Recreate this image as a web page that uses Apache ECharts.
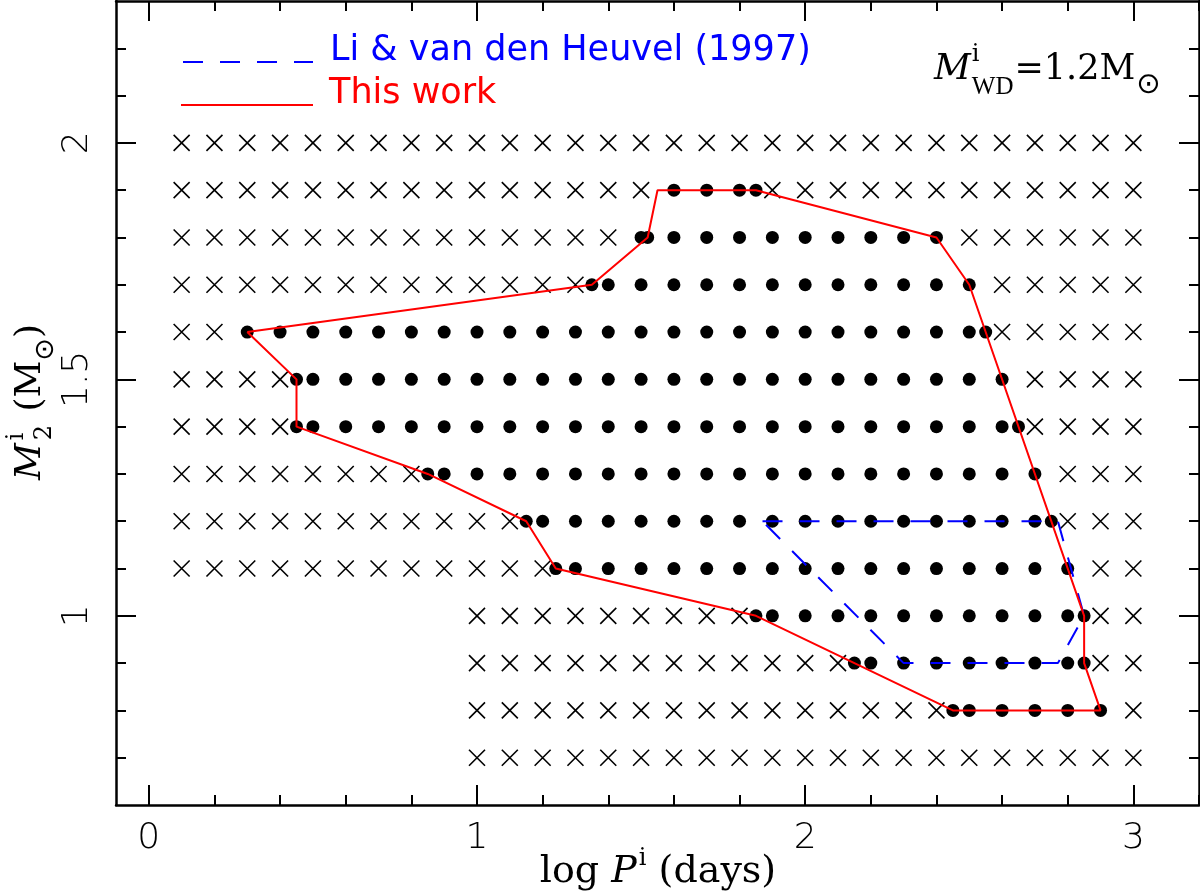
<!DOCTYPE html>
<html>
<head>
<meta charset="utf-8">
<script src="https://cdn.jsdelivr.net/npm/echarts@6/dist/echarts.min.js"></script>
<style>
  html, body { margin: 0; padding: 0; background: #fff; }
  #chart { width: 1200px; height: 895px; }
</style>
</head>
<body>
<div id="chart"></div>
<script>
// initial companion mass rows (Msun)
var m2Rows = [2.0, 1.9, 1.8, 1.7, 1.6, 1.5, 1.4, 1.3, 1.2, 1.1, 1.0, 0.9, 0.8, 0.7];

// log P of the crosses (no SN Ia) in each row
var crossRows = [
    [0.1, 0.2, 0.3, 0.4, 0.5, 0.6, 0.7, 0.8, 0.9, 1.0, 1.1, 1.2, 1.3, 1.4, 1.5, 1.6, 1.7, 1.8, 1.9, 2.0, 2.1, 2.2, 2.3, 2.4, 2.5, 2.6, 2.7, 2.8, 2.9, 3.0],
    [0.1, 0.2, 0.3, 0.4, 0.5, 0.6, 0.7, 0.8, 0.9, 1.0, 1.1, 1.2, 1.3, 1.4, 1.5, 1.9, 2.0, 2.1, 2.2, 2.3, 2.4, 2.5, 2.6, 2.7, 2.8, 2.9, 3.0],
    [0.1, 0.2, 0.3, 0.4, 0.5, 0.6, 0.7, 0.8, 0.9, 1.0, 1.1, 1.2, 1.3, 1.4, 2.5, 2.6, 2.7, 2.8, 2.9, 3.0],
    [0.1, 0.2, 0.3, 0.4, 0.5, 0.6, 0.7, 0.8, 0.9, 1.0, 1.1, 1.2, 1.3, 2.6, 2.7, 2.8, 2.9, 3.0],
    [0.1, 0.2, 2.6, 2.7, 2.8, 2.9, 3.0],
    [0.1, 0.2, 0.3, 0.4, 2.7, 2.8, 2.9, 3.0],
    [0.1, 0.2, 0.3, 0.4, 2.7, 2.8, 2.9, 3.0],
    [0.1, 0.2, 0.3, 0.4, 0.5, 0.6, 0.7, 0.8, 2.8, 2.9, 3.0],
    [0.1, 0.2, 0.3, 0.4, 0.5, 0.6, 0.7, 0.8, 0.9, 1.0, 1.1, 2.8, 2.9, 3.0],
    [0.1, 0.2, 0.3, 0.4, 0.5, 0.6, 0.7, 0.8, 0.9, 1.0, 1.1, 1.2, 2.9, 3.0],
    [1.0, 1.1, 1.2, 1.3, 1.4, 1.5, 1.6, 1.7, 1.8, 2.9, 3.0],
    [1.0, 1.1, 1.2, 1.3, 1.4, 1.5, 1.6, 1.7, 1.8, 1.9, 2.0, 2.1, 2.9, 3.0],
    [1.0, 1.1, 1.2, 1.3, 1.4, 1.5, 1.6, 1.7, 1.8, 1.9, 2.0, 2.1, 2.2, 2.3, 2.4, 3.0],
    [1.0, 1.1, 1.2, 1.3, 1.4, 1.5, 1.6, 1.7, 1.8, 1.9, 2.0, 2.1, 2.2, 2.3, 2.4, 2.5, 2.6, 2.7, 2.8, 2.9, 3.0]
];

// log P of the filled dots (SN Ia) in each row
var dotRows = [
    [],
    [1.6, 1.7, 1.8, 1.85],
    [1.5, 1.52, 1.6, 1.7, 1.8, 1.9, 2.0, 2.1, 2.2, 2.3, 2.4],
    [1.35, 1.4, 1.5, 1.6, 1.7, 1.8, 1.9, 2.0, 2.1, 2.2, 2.3, 2.4, 2.5],
    [0.3, 0.4, 0.5, 0.6, 0.7, 0.8, 0.9, 1.0, 1.1, 1.2, 1.3, 1.4, 1.5, 1.6, 1.7, 1.8, 1.9, 2.0, 2.1, 2.2, 2.3, 2.4, 2.5, 2.55],
    [0.45, 0.5, 0.6, 0.7, 0.8, 0.9, 1.0, 1.1, 1.2, 1.3, 1.4, 1.5, 1.6, 1.7, 1.8, 1.9, 2.0, 2.1, 2.2, 2.3, 2.4, 2.5, 2.6],
    [0.45, 0.5, 0.6, 0.7, 0.8, 0.9, 1.0, 1.1, 1.2, 1.3, 1.4, 1.5, 1.6, 1.7, 1.8, 1.9, 2.0, 2.1, 2.2, 2.3, 2.4, 2.5, 2.6, 2.65],
    [0.85, 0.9, 1.0, 1.1, 1.2, 1.3, 1.4, 1.5, 1.6, 1.7, 1.8, 1.9, 2.0, 2.1, 2.2, 2.3, 2.4, 2.5, 2.6, 2.7],
    [1.15, 1.2, 1.3, 1.4, 1.5, 1.6, 1.7, 1.8, 1.9, 2.0, 2.1, 2.2, 2.3, 2.4, 2.5, 2.6, 2.7, 2.75],
    [1.24, 1.3, 1.4, 1.5, 1.6, 1.7, 1.8, 1.9, 2.0, 2.1, 2.2, 2.3, 2.4, 2.5, 2.6, 2.7, 2.8],
    [1.85, 1.9, 2.0, 2.1, 2.2, 2.3, 2.4, 2.5, 2.6, 2.7, 2.8, 2.85],
    [2.15, 2.2, 2.3, 2.4, 2.5, 2.6, 2.7, 2.8, 2.85],
    [2.45, 2.5, 2.6, 2.7, 2.8, 2.9],
    []
];

// Li & van den Heuvel (1997) region
var liLogP = [1.87, 2.77, 2.85, 2.77, 2.3, 1.87];
var liM2 = [1.2, 1.2, 1.0, 0.9, 0.9, 1.2];

// this work region
var ourLogP = [0.3, 1.35, 1.52, 1.55, 1.85, 2.4, 2.5, 2.85, 2.85, 2.9, 2.45, 1.85, 1.24, 1.15, 0.85, 0.45, 0.45, 0.3];
var ourM2 = [1.6, 1.7, 1.8, 1.9, 1.9, 1.8, 1.7, 1.0, 0.9, 0.8, 0.8, 1.0, 1.1, 1.2, 1.3, 1.4, 1.5, 1.6];

// ticks
var xMajor = [0, 1, 2, 3];
var xMinor = [0.2, 0.4, 0.6, 0.8, 1.2, 1.4, 1.6, 1.8, 2.2, 2.4, 2.6, 2.8, 3.2];
var yMajor = [1, 1.5, 2];
var yMinor = [0.7, 0.8, 0.9, 1.1, 1.2, 1.3, 1.4, 1.6, 1.7, 1.8, 1.9, 2.1, 2.2];

var SANS = '"DejaVu Sans"';
var SERIF = '"DejaVu Serif"';
var NARROW_SERIF = '"Liberation Serif"';

var crossData = [];
var dotData = [];
m2Rows.forEach(function (m, i) {
    crossRows[i].forEach(function (p) { crossData.push([p, m]); });
    dotRows[i].forEach(function (p) { dotData.push([p, m]); });
});
var liData = liLogP.map(function (p, i) { return [p, liM2[i]]; });
var ourData = ourLogP.map(function (p, i) { return [p, ourM2[i]]; });

// text with sub/superscripts, pieces laid out left to right on one baseline
var measureCtx = document.createElement('canvas').getContext('2d');
function mathRow(parts, color) {
    var x = 0, held = null;
    var kids = [];
    parts.forEach(function (p) {
        var font = (p.italic ? 'italic ' : '') + p.size + 'px ' + (p.family || SERIF);
        measureCtx.font = font;
        var w = measureCtx.measureText(p.t).width;
        x += p.gap || 0;
        kids.push({
            type: 'text', x: x, y: (p.base || 0) - 0.346 * p.size,
            style: {
                text: p.t, font: font, fill: color,
                textAlign: 'left', textVerticalAlign: 'middle', align: 'left', verticalAlign: 'middle'
            }
        });
        if (p.stack) {
            held = w;
        } else {
            x += held !== null ? Math.max(held, w) : w;
            held = null;
        }
    });
    return { kids: kids, width: x };
}

var wdLabel = mathRow([
    { t: 'M', size: 36, italic: true },
    { t: 'i', size: 24, base: -19, gap: 1, stack: true },
    { t: 'WD', size: 25, family: NARROW_SERIF, base: 14 },
    { t: '=1.2M', size: 35, gap: 1 },
    { t: '\u2299', size: 29, family: SANS, base: 14, gap: 1 }
], '#000');

var xTitle = mathRow([
    { t: 'log ', size: 38 },
    { t: 'P', size: 38, italic: true },
    { t: 'i', size: 24, base: -18, gap: 2 },
    { t: ' (days)', size: 38 }
], '#000');

var yTitle = mathRow([
    { t: 'M', size: 36, italic: true },
    { t: 'i', size: 24, base: -18, gap: 3, stack: true },
    { t: '2', size: 24, base: 10 },
    { t: ' (M', size: 36, gap: 2 },
    { t: '\u2299', size: 27, family: SANS, base: 12 },
    { t: ')', size: 36 }
], '#000');

function makeAxis(pos, min, max, ticks, len, showLine, label) {
    return {
        type: 'value', position: pos, min: min, max: max,
        axisLine: { show: showLine, onZero: false, lineStyle: { color: '#000', width: 2.5 } },
        axisTick: { show: true, inside: true, length: len, customValues: ticks, lineStyle: { color: '#000', width: 2 } },
        axisLabel: label || { show: false },
        splitLine: { show: false }
    };
}

var chart = echarts.init(document.getElementById('chart'));
var option = {
    animation: false,
    backgroundColor: '#fff',
    grid: { left: 116, right: 1, top: 1, bottom: 90 },
    xAxis: [
        makeAxis('bottom', -0.1, 3.2, xMajor, 20, true, {
            show: true, customValues: xMajor, margin: 16,
            color: '#000', fontSize: 36, fontFamily: SANS, fontWeight: 200
        }),
        makeAxis('bottom', -0.1, 3.2, xMinor, 10, false),
        makeAxis('top', -0.1, 3.2, xMajor, 20, true),
        makeAxis('top', -0.1, 3.2, xMinor, 10, false)
    ],
    yAxis: [
        makeAxis('left', 0.6, 2.3, yMajor, 20, true, {
            show: true, customValues: yMajor, margin: 20, rotate: 90,
            color: '#000', fontSize: 36, fontFamily: SANS, fontWeight: 200
        }),
        makeAxis('left', 0.6, 2.3, yMinor, 10, false),
        makeAxis('right', 0.6, 2.3, yMajor, 20, true),
        makeAxis('right', 0.6, 2.3, yMinor, 10, false)
    ],
    series: [
        {
            name: 'no SN Ia', type: 'scatter', z: 2,
            symbol: 'path://M0,0L10,10M10,0L0,10', symbolSize: 16,
            itemStyle: { color: 'rgba(0,0,0,0)', borderColor: '#000', borderWidth: 1.6, opacity: 1 },
            data: crossData
        },
        {
            name: 'SN Ia', type: 'scatter', z: 3,
            symbol: 'circle', symbolSize: 13,
            itemStyle: { color: '#000', opacity: 1 },
            data: dotData
        },
        {
            name: 'Li & van den Heuvel (1997)', type: 'line', z: 4,
            symbol: 'none',
            lineStyle: { color: '#0000ff', width: 2, type: [20, 17] },
            data: liData
        },
        {
            name: 'This work', type: 'line', z: 5,
            symbol: 'none',
            lineStyle: { color: '#ff0000', width: 2 },
            data: ourData
        }
    ],
    graphic: [
        { type: 'line', shape: { x1: 183, y1: 62, x2: 313, y2: 62 },
          style: { stroke: '#0000ff', lineWidth: 2, lineDash: [20, 17] } },
        { type: 'text', x: 330, y: 63 - 0.346 * 35,
          style: { text: 'Li & van den Heuvel (1997)', font: '35px ' + SANS, fill: '#0000ff',
                   textAlign: 'left', textVerticalAlign: 'middle', align: 'left', verticalAlign: 'middle' } },
        { type: 'line', shape: { x1: 181, y1: 105, x2: 313, y2: 105 },
          style: { stroke: '#ff0000', lineWidth: 2 } },
        { type: 'text', x: 329, y: 106 - 0.346 * 35,
          style: { text: 'This work', font: '35px ' + SANS, fill: '#ff0000',
                   textAlign: 'left', textVerticalAlign: 'middle', align: 'left', verticalAlign: 'middle' } },
        { type: 'group', x: 934, y: 82, children: wdLabel.kids },
        { type: 'group', x: 658 - xTitle.width / 2, y: 885, children: xTitle.kids },
        { type: 'group', x: 43, y: 402 + yTitle.width / 2, rotation: Math.PI / 2, children: yTitle.kids }
    ]
};
chart.setOption(option);
</script>
</body>
</html>
